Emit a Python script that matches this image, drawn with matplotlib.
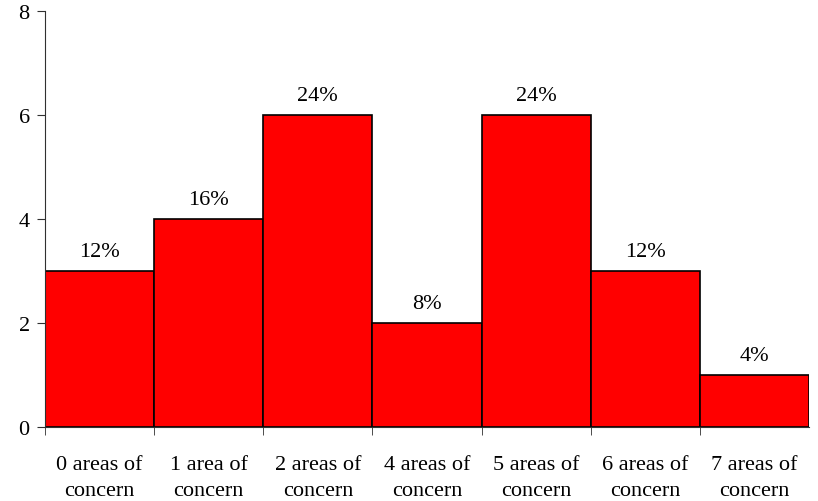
import numpy as np
import matplotlib.pyplot as plt

categories = ["0 areas of\nconcern", "1 area of\nconcern", "2 areas of\nconcern",
              "4 areas of\nconcern", "5 areas of\nconcern", "6 areas of\nconcern",
              "7 areas of\nconcern"]
counts = [3, 4, 6, 2, 6, 3, 1]
pct_labels = ["12%", "16%", "24%", "8%", "24%", "12%", "4%"]

plt.rcParams['font.family'] = ['Liberation Serif', 'DejaVu Serif']

fig = plt.figure(figsize=(8.18, 5.02), dpi=100)
ax = fig.add_axes([45 / 818, 74 / 502, 764 / 818, 416 / 502])

x = np.arange(len(categories))
ax.bar(x, counts, width=1.0, color='#ff0000', edgecolor='black', linewidth=1.2)

for xi, c, lab in zip(x, counts, pct_labels):
    ax.text(xi, c + 0.2, lab, ha='center', va='bottom', fontsize=16)

ax.set_xlim(-0.5, len(categories) - 0.5)
ax.set_ylim(0, 8)
ax.set_yticks([0, 2, 4, 6, 8])
ax.set_xticks(x)
ax.set_xticklabels(categories, fontsize=16, linespacing=1.55)
ax.set_xticks(np.arange(-0.5, len(categories) - 1), minor=True)
ax.tick_params(axis='x', which='major', length=0, pad=20)
ax.tick_params(axis='x', which='minor', length=6, direction='out', color='#303030')
ax.tick_params(axis='y', labelsize=16, length=6, direction='out', color='#303030', pad=5)

ax.spines['top'].set_visible(False)
ax.spines['right'].set_visible(False)
ax.spines['left'].set_color('#303030')
ax.spines['bottom'].set_color('#303030')

fig.savefig("out.png", dpi=100)
